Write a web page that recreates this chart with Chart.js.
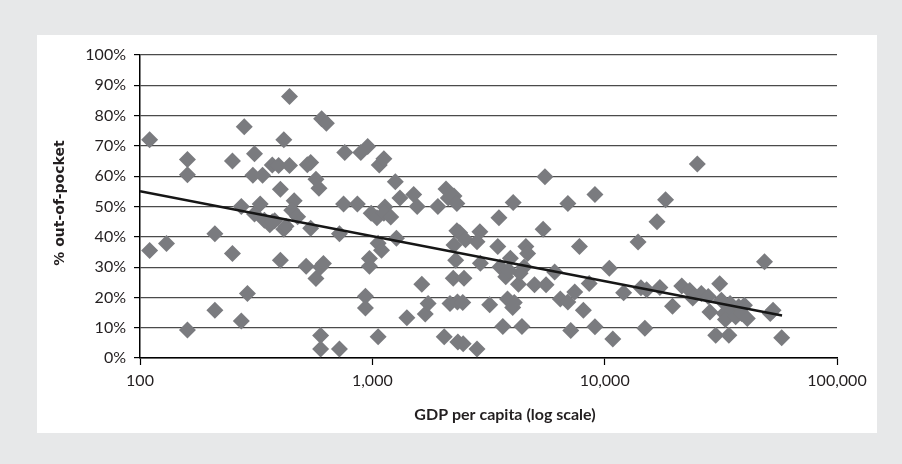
<!DOCTYPE html>
<html>
<head>
<meta charset="utf-8">
<script src="https://cdn.jsdelivr.net/npm/chart.js@4.4.1/dist/chart.umd.min.js"></script>
<style>
  html, body { margin: 0; padding: 0; background: #e7e8e9; }
  #wrap { width: 902px; height: 464px; }
</style>
</head>
<body>
<div id="wrap"><canvas id="chart" width="902" height="464"></canvas></div>
<script>
// GDP per capita (US$) for each country
const gdpPerCapita = [
  110, 110, 130, 160, 160, 160, 210, 210, 250, 250,
  281, 273, 273, 290, 311, 306, 329, 337, 311, 343,
  362, 371, 395, 416, 402, 402, 440, 440, 461, 450,
  477, 416, 380, 519, 525, 543, 543, 572, 589, 572,
  599, 616, 599, 599, 605, 634, 722, 722, 752, 761,
  862, 892, 955, 934, 934, 972, 972, 989, 1047, 1059,
  1059, 1095, 1071, 1121, 1133, 1121, 1200, 1256, 1270, 1315,
  1507, 1408, 1560, 1633, 1690, 1738, 1915, 2075, 2123, 2246,
  2312, 2159, 2039, 2246, 2285, 2324, 2335, 2461, 2312, 2377,
  2230, 2480, 2518, 2450, 2821, 2904, 2821, 2918, 3199, 3506,
  3467, 3545, 3753, 3645, 3818, 4039, 3927, 4083, 4255, 4406,
  4500, 4581, 4660, 4327, 3863, 4989, 5433, 5533, 5595, 6092,
  6445, 6945, 6945, 7147, 7433, 7787, 8100, 8577, 9079, 9079,
  10470, 10840, 12070, 13920, 14330, 14900, 15160, 16800, 17280, 18290,
  19590, 21470, 23240, 25050, 23940, 26060, 27910, 28380, 30060, 31270,
  31790, 32710, 33100, 34650, 35620, 34250, 36640, 37740, 38800, 41120,
  39950, 48750, 51600, 53080, 57800, 4018, 425, 371
];

// Out-of-pocket share of health spending (%), same order as above
const outOfPocketPct = [
  72, 35.5, 37.8, 65.5, 60.5, 9.2, 41, 15.8, 65, 34.5,
  76.3, 50, 12.2, 21.3, 67.4, 60.3, 50.8, 60.3, 47.5, 45.5,
  44, 63.7, 63.5, 72, 55.7, 32.3, 86.3, 63.5, 51.9, 48.8,
  46.6, 42.5, 45.3, 30.3, 63.8, 64.5, 42.8, 59, 56, 26.2,
  30, 31.2, 7.4, 3, 79, 77.5, 3, 41, 50.8, 67.8,
  50.8, 67.8, 69.8, 20.4, 16.5, 32.8, 30.3, 47.8, 46.3, 7,
  37.9, 35.6, 63.7, 65.8, 49.8, 47.8, 46.5, 58.2, 39.5, 52.8,
  54, 13.3, 50, 24.3, 14.5, 18, 50, 55.8, 52.8, 53.5,
  51, 18, 7, 37.3, 32.3, 18.5, 5.3, 4.7, 42, 41.3,
  26.3, 26.3, 39, 18.3, 3, 41.7, 38.4, 31.3, 17.6, 46.3,
  36.8, 30, 26.8, 10.4, 19.5, 51.3, 32.9, 18.3, 24.3, 10.4,
  30, 36.8, 34.5, 28, 29, 24.2, 42.5, 59.8, 24.2, 28.4,
  19.5, 51, 18.5, 9.1, 21.8, 36.8, 15.8, 24.6, 54, 10.3,
  29.6, 6.3, 21.5, 38.3, 23.2, 9.8, 22.5, 45, 23.3, 52.2,
  17.1, 23.8, 22.3, 64, 19.8, 21.3, 20.3, 15.2, 7.5, 24.5,
  19.1, 14.7, 12.7, 18, 15.8, 7.5, 13.6, 16.9, 14.7, 13,
  17.4, 31.8, 14.7, 15.8, 6.7, 16.7, 43.5, 45
];

// Logarithmic trend line end points
const trendGdp = [100, 58000];
const trendPct = [55, 14];

// Axis tick values
const xTickValues = [100, 1000, 10000, 100000];
const yTickValues = [0, 10, 20, 30, 40, 50, 60, 70, 80, 90, 100];

const xTitle = 'GDP per capita (log scale)';
const yTitle = '% out-of-pocket';

const countryPoints = gdpPerCapita.map((g, i) => ({ x: g, y: outOfPocketPct[i] }));
const trendPoints = trendGdp.map((g, i) => ({ x: g, y: trendPct[i] }));

// Grey backdrop with a white panel behind the plot
const panelBackground = {
  id: 'panelBackground',
  beforeDraw(chart) {
    const ctx = chart.ctx;
    ctx.save();
    ctx.fillStyle = '#e7e8e9';
    ctx.fillRect(0, 0, chart.width, chart.height);
    ctx.fillStyle = '#ffffff';
    ctx.fillRect(37, 35, 840, 398);
    ctx.restore();
  }
};

// Axis titles
const axisTitles = {
  id: 'axisTitles',
  afterDraw(chart) {
    const ctx = chart.ctx;
    ctx.save();
    ctx.fillStyle = '#231f20';
    ctx.textAlign = 'center';
    ctx.textBaseline = 'middle';
    ctx.font = 'bold 16px Lato';
    ctx.fillText(xTitle, 505, 415);
    ctx.translate(60, 203);
    ctx.rotate(-Math.PI / 2);
    ctx.font = 'bold 14px "DejaVu Sans"';
    ctx.fillText(yTitle, 0, 0);
    ctx.restore();
  }
};

new Chart(document.getElementById('chart'), {
  type: 'scatter',
  data: {
    datasets: [
      {
        type: 'line',
        data: trendPoints,
        borderColor: '#161616',
        borderWidth: 2.5,
        pointRadius: 0,
        fill: false,
        order: 0
      },
      {
        data: countryPoints,
        pointStyle: 'rectRot',
        pointRadius: 8.5,
        pointBackgroundColor: '#7a7b7f',
        pointBorderWidth: 0,
        pointBorderColor: '#7a7b7f',
        order: 1
      }
    ]
  },
  options: {
    responsive: false,
    animation: false,
    devicePixelRatio: 1,
    layout: { padding: { left: 0, top: 55, right: 65, bottom: 0 } },
    plugins: { legend: { display: false }, tooltip: { enabled: false } },
    scales: {
      x: {
        type: 'logarithmic',
        position: 'bottom',
        min: 100,
        max: 100000,
        afterBuildTicks: s => { s.ticks = xTickValues.map(v => ({ value: v })); },
        afterFit: s => { s.height = 106; },
        ticks: {
          autoSkip: false,
          maxRotation: 0,
          padding: 6,
          color: '#231f20',
          font: { family: 'Lato', size: 16 },
          callback: v => Number(v).toLocaleString('en-US')
        },
        grid: { drawOnChartArea: false, drawTicks: true, tickLength: 7, tickColor: '#000', tickWidth: 1.2 },
        border: { color: '#000', width: 1.5 }
      },
      y: {
        min: 0,
        max: 100,
        afterBuildTicks: s => { s.ticks = yTickValues.map(v => ({ value: v })); },
        afterFit: s => { s.width = 140; },
        ticks: {
          padding: 8,
          color: '#231f20',
          font: { family: 'Lato', size: 16 },
          callback: v => v + '%'
        },
        grid: { color: '#4a4a4a', lineWidth: 1.2, tickLength: 6, tickColor: '#000', tickWidth: 1.2 },
        border: { color: '#000', width: 1.5 }
      }
    }
  },
  plugins: [panelBackground, axisTitles]
});
</script>
</body>
</html>
